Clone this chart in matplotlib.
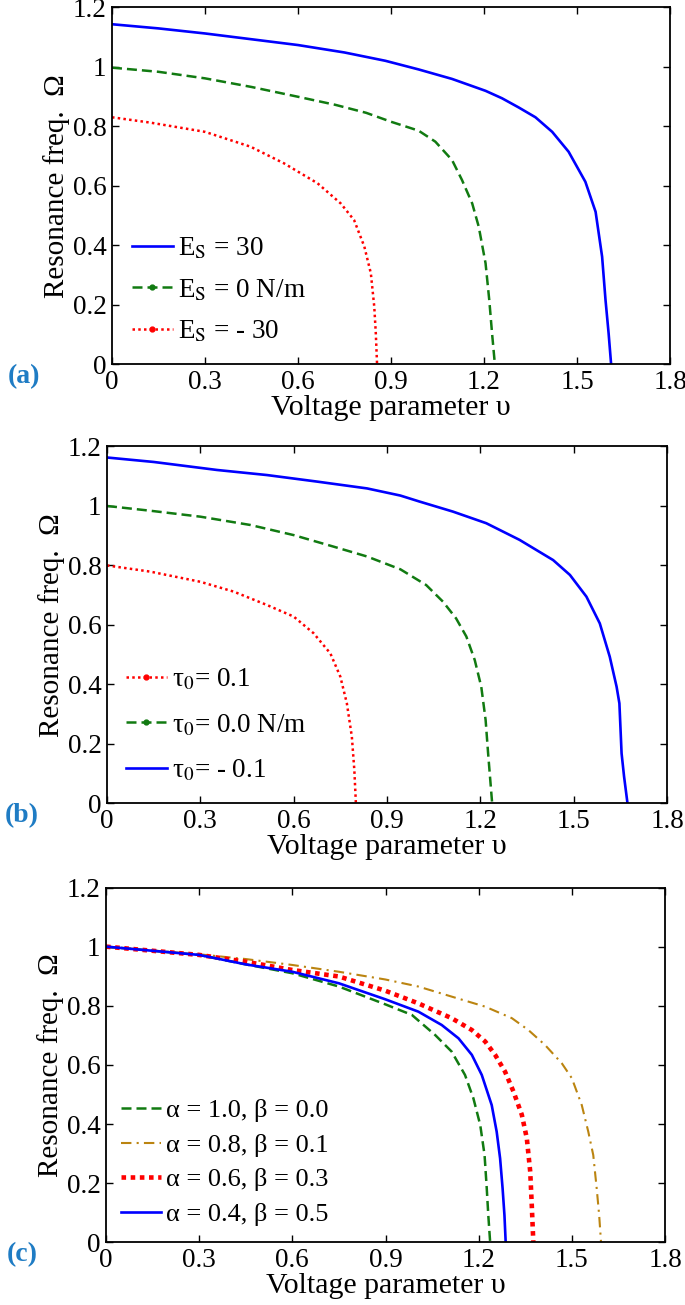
import matplotlib
matplotlib.use('Agg')
import matplotlib.pyplot as plt
from matplotlib.lines import Line2D

plt.rcParams['font.family'] = ['Liberation Serif', 'DejaVu Serif']
plt.rcParams['mathtext.fontset'] = 'stix'

# panel (a): surface elasticity E_S
va_pos = [0, 0.15, 0.3, 0.6, 0.75, 0.882, 0.989, 1.097, 1.205, 1.258, 1.312, 1.366,
          1.42, 1.473, 1.527, 1.56, 1.581, 1.592, 1.602, 1.61]
wa_pos = [1.143, 1.129, 1.112, 1.073, 1.048, 1.020, 0.991, 0.959, 0.919, 0.894, 0.863, 0.830,
          0.781, 0.714, 0.613, 0.512, 0.361, 0.215, 0.103, 0]
va_zero = [0, 0.15, 0.3, 0.45, 0.6, 0.72, 0.82, 0.9, 0.989, 1.043, 1.097, 1.129, 1.162,
           1.183, 1.205, 1.217, 1.226, 1.235]
wa_zero = [0.997, 0.983, 0.961, 0.932, 0.899, 0.872, 0.845, 0.815, 0.785, 0.748, 0.686, 0.619,
           0.540, 0.462, 0.339, 0.215, 0.103, 0]
va_neg = [0, 0.124, 0.3, 0.447, 0.555, 0.663, 0.738, 0.781, 0.814, 0.835, 0.846, 0.851, 0.855]
wa_neg = [0.830, 0.812, 0.781, 0.731, 0.675, 0.608, 0.540, 0.484, 0.395, 0.305, 0.193, 0.103, 0]

# panel (b): residual stress tau_0
vb_pos = [0, 0.15, 0.354, 0.514, 0.675, 0.836, 0.943, 1.004, 1.112, 1.219, 1.326, 1.434,
          1.488, 1.541, 1.584, 1.616, 1.638, 1.647, 1.654, 1.662, 1.673]
wb_pos = [1.163, 1.148, 1.121, 1.104, 1.082, 1.059, 1.035, 1.015, 0.981, 0.942, 0.886, 0.818,
          0.768, 0.695, 0.605, 0.493, 0.392, 0.336, 0.168, 0.09, 0]
vb_zero = [0, 0.139, 0.3, 0.461, 0.6, 0.729, 0.836, 0.943, 1.026, 1.08, 1.122, 1.155,
           1.182, 1.203, 1.217, 1.225, 1.238]
wb_zero = [1.0, 0.984, 0.964, 0.936, 0.902, 0.863, 0.83, 0.787, 0.734, 0.678, 0.622, 0.561,
           0.482, 0.392, 0.28, 0.168, 0]
vb_neg = [0, 0.14, 0.3, 0.407, 0.514, 0.6, 0.664, 0.718, 0.75, 0.771, 0.787, 0.795, 0.8]
wb_neg = [0.80, 0.779, 0.745, 0.712, 0.667, 0.628, 0.572, 0.504, 0.426, 0.336, 0.224, 0.112, 0]

# panel (c): alpha / beta combinations
vc_g = [0, 0.3, 0.45, 0.6, 0.75, 0.899, 0.985, 1.06, 1.113, 1.156, 1.183, 1.205, 1.219,
        1.226, 1.231, 1.237]
wc_g = [1.0, 0.972, 0.94, 0.91, 0.865, 0.805, 0.769, 0.701, 0.645, 0.566, 0.487, 0.397,
        0.295, 0.183, 0.092, 0]
vc_o = [0, 0.3, 0.45, 0.6, 0.75, 0.899, 1.006, 1.113, 1.221, 1.307, 1.36, 1.414, 1.468,
        1.5, 1.532, 1.553, 1.569, 1.58, 1.588, 1.594]
wc_o = [1.0, 0.974, 0.958, 0.938, 0.915, 0.889, 0.865, 0.831, 0.797, 0.758, 0.718, 0.667,
        0.605, 0.555, 0.464, 0.374, 0.295, 0.183, 0.092, 0]
vc_r = [0, 0.3, 0.45, 0.6, 0.75, 0.899, 1.006, 1.113, 1.178, 1.221, 1.253, 1.285, 1.312,
        1.339, 1.355, 1.366, 1.371, 1.376]
wc_r = [1.0, 0.972, 0.949, 0.921, 0.899, 0.851, 0.808, 0.758, 0.718, 0.679, 0.634, 0.577,
        0.51, 0.431, 0.352, 0.239, 0.126, 0]
vc_b = [0, 0.3, 0.45, 0.6, 0.75, 0.899, 1.006, 1.081, 1.135, 1.178, 1.21, 1.242, 1.258,
        1.269, 1.277, 1.283, 1.287]
wc_b = [1.0, 0.972, 0.94, 0.915, 0.876, 0.822, 0.78, 0.735, 0.69, 0.634, 0.566, 0.464,
        0.374, 0.284, 0.183, 0.092, 0]

xticks = [0, 0.3, 0.6, 0.9, 1.2, 1.5, 1.8]
xticklabels = ['0', '0.3', '0.6', '0.9', '1.2', '1.5', '1.8']
yticks = [0, 0.2, 0.4, 0.6, 0.8, 1.0, 1.2]
yticklabels = ['0', '0.2', '0.4', '0.6', '0.8', '1', '1.2']

BLUE = '#0000ff'
GREEN = '#117a11'
RED = '#ff0000'
GOLD = '#bb8410'
LABEL_C = '#1f7cc4'

DASH = (0, (4, 2))
DOT = (0, (1, 1.3))
DASHDOT = (0, (5, 2.5, 1, 2.5))
SQDOT = (0, (1, 1))

W, H = 685, 1305
fig = plt.figure(figsize=(W / 100, H / 100), dpi=100)


def make_axes(top, bottom, left, right):
    ax = fig.add_axes([left / W, 1 - bottom / H, (right - left) / W, (bottom - top) / H])
    ax.set_xlim(0, 1.8)
    ax.set_ylim(0, 1.2)
    ax.set_xticks(xticks)
    ax.set_xticklabels(xticklabels)
    ax.set_yticks(yticks)
    ax.set_yticklabels(yticklabels)
    ax.tick_params(direction='in', top=True, right=True, length=5, width=1.0,
                   labelsize=19.5, pad=4)
    for s in ax.spines.values():
        s.set_linewidth(1.3)
    ax.set_xlabel('Voltage parameter υ', fontsize=21.5, labelpad=0)
    ax.set_ylabel('Resonance freq.  Ω', fontsize=21, labelpad=2)
    return ax


def handle(color, ls, lw, dot):
    return Line2D([], [], color=color, ls=ls, lw=lw, dash_capstyle='butt',
                  marker='o' if dot else None, markersize=3.5)


leg_kw = dict(loc='center left', frameon=False, handlelength=1.5,
              handletextpad=0.2, borderpad=0, borderaxespad=0)

# (a)
ax = make_axes(7.3, 364, 112, 670)
ax.plot(va_pos, wa_pos, color=BLUE, lw=1.9, ls='-')
ax.plot(va_zero, wa_zero, color=GREEN, lw=1.8, ls=DASH)
ax.plot(va_neg, wa_neg, color=RED, lw=1.8, ls=DOT)
ax.legend([handle(BLUE, '-', 1.9, False),
           handle(GREEN, DASH, 1.8, True),
           handle(RED, DOT, 1.8, True)],
          ['E$_{\\mathrm{S}}$ = 30', 'E$_{\\mathrm{S}}$ = 0 N/m', 'E$_{\\mathrm{S}}$ = - 30'],
          bbox_to_anchor=(0.036, 0.207), fontsize=19.5, labelspacing=0.6, **leg_kw)
fig.text(24 / W, 1 - 377 / H, '(a)', color=LABEL_C, fontsize=20, fontweight='bold',
         ha='center', va='center')

# (b)
ax = make_axes(446.5, 803.3, 107, 667)
ax.plot(vb_pos, wb_pos, color=BLUE, lw=1.9, ls='-')
ax.plot(vb_zero, wb_zero, color=GREEN, lw=1.8, ls=DASH)
ax.plot(vb_neg, wb_neg, color=RED, lw=1.8, ls=DOT)
ax.legend([handle(RED, DOT, 1.8, True),
           handle(GREEN, DASH, 1.8, True),
           handle(BLUE, '-', 1.9, False)],
          ['τ$_{0}$= 0.1', 'τ$_{0}$= 0.0 N/m', 'τ$_{0}$= - 0.1'],
          bbox_to_anchor=(0.034, 0.219), fontsize=19.5, labelspacing=0.75, **leg_kw)
fig.text(22 / W, 1 - 816 / H, '(b)', color=LABEL_C, fontsize=20, fontweight='bold',
         ha='center', va='center')

# (c)
ax = make_axes(887.5, 1242.3, 106, 665)
ax.plot(vc_g, wc_g, color=GREEN, lw=1.8, ls=DASH)
ax.plot(vc_o, wc_o, color=GOLD, lw=1.5, ls=DASHDOT)
ax.plot(vc_r, wc_r, color=RED, lw=3.3, ls=SQDOT)
ax.plot(vc_b, wc_b, color=BLUE, lw=1.9, ls='-')
ax.legend([handle(GREEN, DASH, 1.8, False),
           handle(GOLD, DASHDOT, 1.5, False),
           handle(RED, SQDOT, 3.3, False),
           handle(BLUE, '-', 1.9, False)],
          ['α = 1.0, β = 0.0', 'α = 0.8, β = 0.1', 'α = 0.6, β = 0.3', 'α = 0.4, β = 0.5'],
          bbox_to_anchor=(0.027, 0.225), fontsize=19, labelspacing=0.42, **leg_kw)
fig.text(22 / W, 1 - 1255 / H, '(c)', color=LABEL_C, fontsize=20, fontweight='bold',
         ha='center', va='center')

fig.savefig('out.png', dpi=100)
